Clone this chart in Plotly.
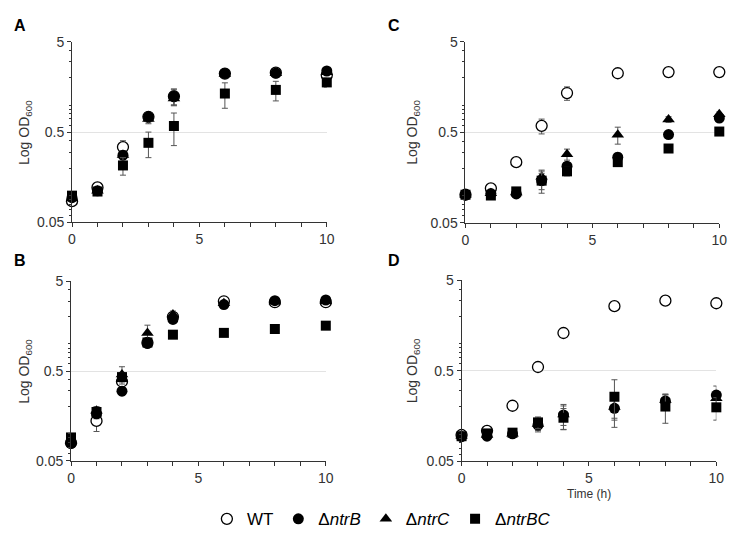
import plotly.graph_objects as go

t = [0, 1, 2, 3, 4, 6, 8, 10]
strains = ["WT", "ΔntrB", "ΔntrC", "ΔntrBC"]
legend_names = ["WT", "Δ<i>ntrB</i>", "Δ<i>ntrC</i>", "Δ<i>ntrBC</i>"]
panel_labels = ["A", "B", "C", "D"]
y_tick_vals = [0.05, 0.5, 5]
y_tick_text = ["0.05", "0.5", "5"]
x_tick_vals = [0, 5, 10]

# Panel A
A_WT = [0.086, 0.122, 0.342, 0.74, 1.25, 2.23, 2.28, 2.14]
A_WT_err = [0.005, 0.008, 0.06, 0.05, 0.25, 0.2, 0.15, 0.15]
A_B = [0.094, 0.112, 0.278, 0.74, 1.25, 2.23, 2.26, 2.38]
A_B_err = [0.005, 0.005, 0.03, 0.08, 0.25, 0.2, 0.15, 0.15]
A_C = [0.092, 0.112, 0.28, 0.70, 1.18, 2.2, 2.25, 2.3]
A_C_err = [0.005, 0.005, 0.03, 0.08, 0.2, 0.2, 0.15, 0.15]
A_BC = [0.099, 0.110, 0.214, 0.381, 0.585, 1.34, 1.47, 1.78]
A_BC_err = [0.005, 0.005, 0.047, 0.12, 0.23, 0.42, 0.36, 0.2]

# Panel B
B_WT = [0.079, 0.139, 0.382, 1.03, 2.01, 2.99, 2.92, 2.92]
B_WT_err = [0.005, 0.033, 0.03, 0.1, 0.2, 0.1, 0.15, 0.15]
B_B = [0.078, 0.167, 0.298, 1.02, 1.88, 2.75, 3.04, 3.09]
B_B_err = [0.005, 0.02, 0.03, 0.1, 0.15, 0.1, 0.15, 0.15]
B_C = [0.083, 0.181, 0.458, 1.33, 2.13, 2.85, 2.98, 3.0]
B_C_err = [0.005, 0.02, 0.1, 0.29, 0.2, 0.1, 0.1, 0.1]
B_BC = [0.091, 0.175, 0.428, 1.04, 1.27, 1.33, 1.47, 1.6]
B_BC_err = [0.005, 0.01, 0.05, 0.1, 0.12, 0.05, 0.05, 0.12]

# Panel C
C_WT = [0.102, 0.12, 0.234, 0.59, 1.36, 2.25, 2.32, 2.32]
C_WT_err = [0.005, 0.005, 0.01, 0.11, 0.23, 0.15, 0.05, 0.05]
C_B = [0.102, 0.105, 0.104, 0.146, 0.211, 0.265, 0.472, 0.72]
C_B_err = [0.003, 0.003, 0.003, 0.03, 0.02, 0.03, 0.03, 0.05]
C_C = [0.102, 0.106, 0.108, 0.161, 0.286, 0.47, 0.695, 0.79]
C_C_err = [0.003, 0.003, 0.003, 0.03, 0.04, 0.1, 0.05, 0.05]
C_BC = [0.102, 0.10, 0.111, 0.146, 0.185, 0.234, 0.331, 0.51]
C_BC_err = [0.003, 0.003, 0.003, 0.04, 0.02, 0.02, 0.02, 0.04]

# Panel D
D_WT = [0.098, 0.109, 0.206, 0.552, 1.31, 2.59, 2.98, 2.79]
D_WT_err = [0.003, 0.003, 0.005, 0.02, 0.03, 0.15, 0.2, 0.2]
D_B = [0.094, 0.095, 0.101, 0.126, 0.163, 0.193, 0.233, 0.27]
D_B_err = [0.003, 0.003, 0.003, 0.02, 0.05, 0.05, 0.04, 0.07]
D_C = [0.096, 0.098, 0.101, 0.13, 0.165, 0.2, 0.238, 0.25]
D_C_err = [0.003, 0.003, 0.003, 0.02, 0.04, 0.05, 0.04, 0.05]
D_BC = [0.095, 0.102, 0.104, 0.135, 0.152, 0.259, 0.202, 0.198]
D_BC_err = [0.003, 0.003, 0.003, 0.02, 0.04, 0.14, 0.07, 0.055]

panels = {
    "A": [(A_WT, A_WT_err), (A_B, A_B_err), (A_C, A_C_err), (A_BC, A_BC_err)],
    "B": [(B_WT, B_WT_err), (B_B, B_B_err), (B_C, B_C_err), (B_BC, B_BC_err)],
    "C": [(C_WT, C_WT_err), (C_B, C_B_err), (C_C, C_C_err), (C_BC, C_BC_err)],
    "D": [(D_WT, D_WT_err), (D_B, D_B_err), (D_C, D_C_err), (D_BC, D_BC_err)],
}

W, H = 737, 543
# pixel boxes: (x0, x1, ytop, ybottom)
boxes = {
    "A": (61, 320, 26.7, 212.7),
    "C": (461, 719, 26.7, 213),
    "B": (60, 319, 273.3, 458.3),
    "D": (457, 716, 272.3, 459),
}
axis_idx = {"A": "", "B": "2", "C": "3", "D": "4"}

styles = [
    dict(symbol="circle", size=11, color="white", line=dict(color="black", width=1.3)),
    dict(symbol="circle", size=11, color="black", line=dict(color="black", width=0)),
    dict(symbol="triangle-up", size=11, color="black", line=dict(color="black", width=0)),
    dict(symbol="square", size=10, color="black", line=dict(color="black", width=0)),
]
draw_order = [0, 2, 1, 3]

fig = go.Figure()
for p in panel_labels:
    k = axis_idx[p]
    for si in draw_order:
        vals, err = panels[p][si]
        fig.add_trace(go.Scatter(
            x=t, y=vals, mode="markers",
            name=legend_names[si],
            legendrank=si + 1,
            showlegend=(p == "A"),
            marker=styles[si],
            error_y=dict(type="data", array=err, visible=True,
                         color="#555555", thickness=1, width=3),
            xaxis="x" + k, yaxis="y" + k,
            cliponaxis=False,
        ))

layout = dict(
    width=W, height=H,
    margin=dict(l=0, r=0, t=0, b=0),
    paper_bgcolor="white", plot_bgcolor="white",
    font=dict(family="Liberation Sans, Arial, sans-serif", color="#333333", size=14),
    legend=dict(orientation="h", x=0.5095, xanchor="center", y=0.045, yanchor="middle",
                font=dict(size=17, color="black"), itemwidth=30, tracegroupgap=0,
                traceorder="normal"),
    showlegend=True,
)

minor_y = [0.06, 0.07, 0.08, 0.09, 0.1, 0.2, 0.3, 0.4, 0.6, 0.7, 0.8, 0.9, 1, 2, 3, 4]
annotations = []
for p in panel_labels:
    x0, x1, yt, yb = boxes[p]
    k = axis_idx[p]
    xname = "xaxis" + k
    yname = "yaxis" + k
    layout[xname] = dict(
        domain=[x0 / W, x1 / W], anchor="y" + k, range=[0, 10],
        tickvals=x_tick_vals, ticks="outside", ticklen=4, tickcolor="#333",
        showline=True, linecolor="#333", linewidth=1, showgrid=False, zeroline=False,
        minor=dict(tickvals=[1, 2, 3, 4, 6, 7, 8, 9], ticks="outside", ticklen=4, tickcolor="#333"),
        tickfont=dict(size=14),
    )
    layout[yname] = dict(
        domain=[1 - yb / H, 1 - yt / H], anchor="x" + k, type="log",
        range=[-1.30103, 0.69897],
        tickvals=y_tick_vals, ticktext=y_tick_text,
        ticks="outside", ticklen=4, tickcolor="#333",
        showline=True, linecolor="#333", linewidth=1,
        showgrid=True, gridcolor="#e3e3e3", gridwidth=1, zeroline=False,
        minor=dict(tickvals=minor_y, ticks="outside", ticklen=2, tickcolor="#333", showgrid=False),
        tickfont=dict(size=14),
    )
    # panel letter
    lx = 8 if p in ("A", "B") else 388
    ly = 10 if p in ("A", "C") else 252
    annotations.append(dict(text="<b>" + p + "</b>", x=lx / W, y=1 - ly / H, xref="paper", yref="paper",
                            showarrow=False, xanchor="center", yanchor="middle",
                            font=dict(size=16, color="black")))
    # y title
    tx = 13 if p in ("A", "B") else 408
    annotations.append(dict(text="Log OD<sub>600</sub>", x=tx / W, y=1 - ((yt + yb) / 2) / H,
                            xref="paper", yref="paper", showarrow=False, textangle=-90,
                            xanchor="center", yanchor="middle", font=dict(size=14, color="#333")))

annotations.append(dict(text="Time (h)", x=587 / W, y=1 - 493 / H, xref="paper", yref="paper",
                        showarrow=False, xanchor="center", yanchor="middle",
                        font=dict(size=12, color="#333")))
layout["annotations"] = annotations
fig.update_layout(**layout)
fig.write_html("out.html")
